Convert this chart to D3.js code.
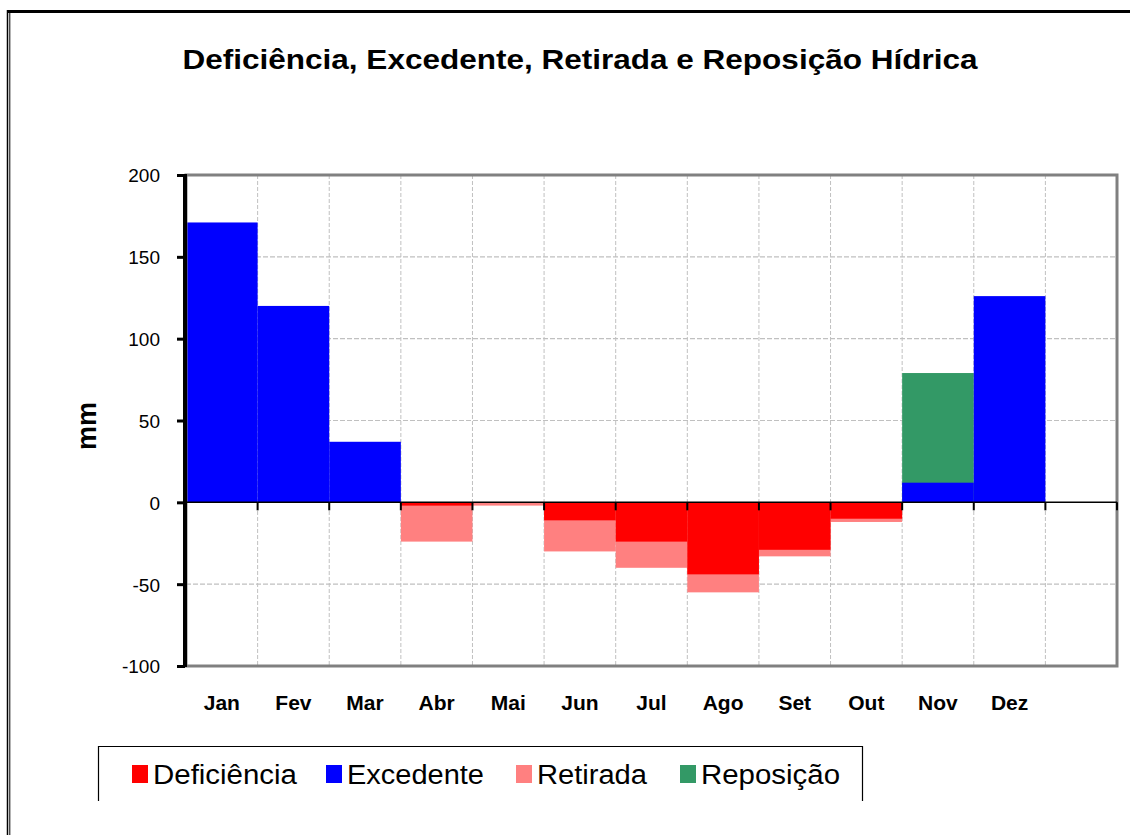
<!DOCTYPE html>
<html>
<head>
<meta charset="utf-8">
<script src="https://cdn.jsdelivr.net/npm/d3@7"></script>
<style>
  body { margin: 0; background: #fff; }
  svg { display: block; font-family: "Liberation Sans", Arial, sans-serif; }
</style>
</head>
<body>
<svg id="chart" width="1130" height="835"></svg>
<script>
// Balanço hídrico (mm)
const months = ['Jan', 'Fev', 'Mar', 'Abr', 'Mai', 'Jun', 'Jul', 'Ago', 'Set', 'Out', 'Nov', 'Dez'];
const deficiencia = [0, 0, 0, -2, 0, -11, -24, -44, -29, -10, 0, 0];
const excedente = [171, 120, 37, 0, 0, 0, 0, 0, 0, 0, 12, 126];
const retirada = [0, 0, 0, -24, -2, -30, -40, -55, -33, -12, 0, 0];
const reposicao = [0, 0, 0, 0, 0, 0, 0, 0, 0, 0, 79, 0];
const yTicks = [200, 150, 100, 50, 0, -50, -100];

const colors = {
  deficiencia: '#ff0000',
  excedente: '#0000ff',
  retirada: '#ff8080',
  reposicao: '#339966'
};

const svg = d3.select('#chart');

// outer frame
svg.append('line').attr('x1', 7).attr('x2', 1130).attr('y1', 11.5).attr('y2', 11.5)
  .attr('stroke', '#000').attr('stroke-width', 3);
svg.append('line').attr('x1', 7.5).attr('x2', 7.5).attr('y1', 10).attr('y2', 835)
  .attr('stroke', '#000').attr('stroke-width', 1.5);
svg.append('line').attr('x1', 9.8).attr('x2', 9.8).attr('y1', 12).attr('y2', 835)
  .attr('stroke', '#000').attr('stroke-width', 1);

// title
svg.append('text')
  .attr('x', 580).attr('y', 69)
  .attr('text-anchor', 'middle')
  .attr('font-size', 28).attr('font-weight', 'bold')
  .attr('textLength', 795).attr('lengthAdjust', 'spacingAndGlyphs')
  .text('Deficiência, Excedente, Retirada e Reposição Hídrica');

// plot area
const plotLeft = 186, plotRight = 1117, plotTop = 175, plotBottom = 666;
const x = d3.scaleLinear().domain([0, months.length + 1]).range([plotLeft, plotRight]);
const y = d3.scaleLinear().domain([-100, 200]).range([plotBottom, plotTop]);

const g = svg.append('g');

// gridlines
g.selectAll('.hgrid')
  .data(yTicks.filter(v => v !== 200 && v !== 0 && v !== -100))
  .enter().append('line')
  .attr('x1', plotLeft).attr('x2', plotRight)
  .attr('y1', d => y(d)).attr('y2', d => y(d))
  .attr('stroke', '#c0c0c0').attr('stroke-width', 1.2).attr('stroke-dasharray', '5,2');

g.selectAll('.vgrid')
  .data(d3.range(1, months.length + 1))
  .enter().append('line')
  .attr('x1', d => x(d)).attr('x2', d => x(d))
  .attr('y1', plotTop).attr('y2', plotBottom)
  .attr('stroke', '#c0c0c0').attr('stroke-width', 1).attr('stroke-dasharray', '4,2');

// bars (area-like steps), drawn in overlap order
function drawSeries(values, color) {
  g.append('g').selectAll('rect')
    .data(values.map((v, i) => ({ v, i })).filter(d => d.v !== 0))
    .enter().append('rect')
    .attr('x', d => x(d.i))
    .attr('width', d => x(d.i + 1) - x(d.i))
    .attr('y', d => y(Math.max(0, d.v)))
    .attr('height', d => Math.abs(y(d.v) - y(0)))
    .attr('fill', color);
}
drawSeries(retirada, colors.retirada);
drawSeries(reposicao, colors.reposicao);
drawSeries(deficiencia, colors.deficiencia);
drawSeries(excedente, colors.excedente);

// plot border (gray)
g.append('rect')
  .attr('x', plotLeft).attr('y', plotTop)
  .attr('width', plotRight - plotLeft).attr('height', plotBottom - plotTop)
  .attr('fill', 'none').attr('stroke', '#808080').attr('stroke-width', 3);

// zero line with tick marks
g.append('line').attr('x1', plotLeft).attr('x2', plotRight)
  .attr('y1', y(0)).attr('y2', y(0))
  .attr('stroke', '#000').attr('stroke-width', 1.5);
g.selectAll('.xtick')
  .data(d3.range(1, months.length + 2))
  .enter().append('line')
  .attr('x1', d => x(d)).attr('x2', d => x(d))
  .attr('y1', y(0)).attr('y2', y(0) + 8)
  .attr('stroke', '#000').attr('stroke-width', 2);

// y axis
const yAxis = d3.axisLeft(y).tickValues(yTicks).tickSize(8).tickPadding(17)
  .tickFormat(d => String(d));
const ya = svg.append('g').attr('transform', `translate(${plotLeft - 1},0)`).call(yAxis);
ya.select('.domain').attr('stroke', '#000').attr('stroke-width', 4)
  .attr('d', `M0,${plotTop - 1}V${plotBottom + 1}`);
ya.selectAll('.tick line').attr('stroke', '#000').attr('stroke-width', 3);
ya.selectAll('.tick text')
  .attr('font-size', 19).attr('fill', '#000')
  .attr('font-family', '"Liberation Sans", Arial, sans-serif')
  .attr('dy', '0.36em');

// y axis title
svg.append('text')
  .attr('transform', 'translate(96,426) rotate(-90)')
  .attr('text-anchor', 'middle')
  .attr('font-size', 27).attr('font-weight', 'bold')
  .text('mm');

// month labels
svg.append('g').selectAll('text')
  .data(months)
  .enter().append('text')
  .attr('x', (d, i) => x(i + 0.5))
  .attr('y', 710)
  .attr('text-anchor', 'middle')
  .attr('font-size', 21).attr('font-weight', 'bold')
  .text(d => d);

// legend
const legendItems = [
  { label: 'Deficiência', color: colors.deficiencia, x: 132, w: 144 },
  { label: 'Excedente', color: colors.excedente, x: 326, w: 137 },
  { label: 'Retirada', color: colors.retirada, x: 516, w: 110 },
  { label: 'Reposição', color: colors.reposicao, x: 680, w: 139 }
];
svg.append('path')
  .attr('d', 'M98.5,801V746.5H862.5V801')
  .attr('fill', 'none').attr('stroke', '#000').attr('stroke-width', 1.2);

const lg = svg.append('g').selectAll('g')
  .data(legendItems)
  .enter().append('g')
  .attr('transform', d => `translate(${d.x},0)`);
lg.append('rect')
  .attr('x', 0).attr('y', 765).attr('width', 16).attr('height', 18)
  .attr('fill', d => d.color);
lg.append('text')
  .attr('x', 21).attr('y', 784)
  .attr('font-size', 27)
  .attr('textLength', d => d.w).attr('lengthAdjust', 'spacingAndGlyphs')
  .text(d => d.label);
</script>
</body>
</html>
